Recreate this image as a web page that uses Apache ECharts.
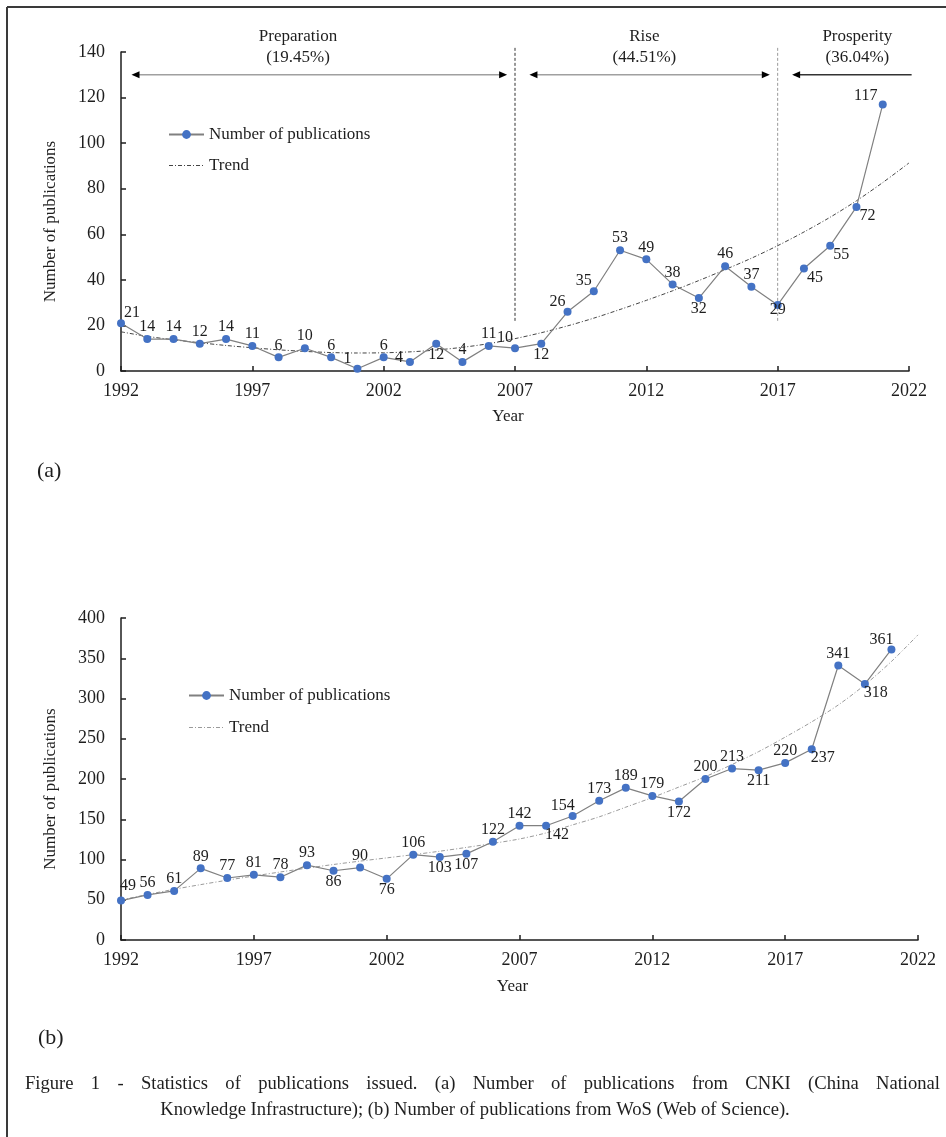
<!DOCTYPE html>
<html><head><meta charset="utf-8">
<script src="https://cdn.jsdelivr.net/npm/echarts/dist/echarts.min.js"></script>
<style>html,body{margin:0;padding:0;background:#fff}#c{width:946px;height:1137px}</style>
</head><body><div id="c"></div>
<script>
// ---------------- DATA ----------------
const years = [1992,1993,1994,1995,1996,1997,1998,1999,2000,2001,2002,2003,2004,2005,2006,2007,2008,2009,2010,2011,2012,2013,2014,2015,2016,2017,2018,2019,2020,2021];
const cnkiCounts = [21,14,14,12,14,11,6,10,6,1,6,4,12,4,11,10,12,26,35,53,49,38,32,46,37,29,45,55,72,117];
const wosCounts = [49,56,61,89,77,81,78,93,86,90,76,106,103,107,122,142,142,154,173,189,179,172,200,213,211,220,237,341,318,361];
const trendYears = [1992,1993,1994,1995,1996,1997,1998,1999,2000,2001,2002,2003,2004,2005,2006,2007,2008,2009,2010,2011,2012,2013,2014,2015,2016,2017,2018,2019,2020,2021,2022];
const cnkiTrend = [17.2,15.2,13.7,12.4,11.2,10.2,9.3,8.6,8.1,7.9,8.0,8.4,9.2,10.4,12.0,14.2,16.8,19.8,23.2,27.0,31.0,35.2,39.7,44.5,49.5,55.0,61.0,67.5,74.7,82.7,91.3];
const wosTrend = [49.7,56.5,63,68.8,74.3,79.5,84.5,89.3,93.8,98,102,106,110.3,115,120,125.5,133,143,153,165,177,190,203,218,234,252,271,292,317,346,379];
const yearAxis = {min: 1992, max: 2022, step: 5};
const cnkiAxis = {min: 0, max: 140, step: 20};
const wosAxis = {min: 0, max: 400, step: 50};
const phaseNames = ['Preparation', 'Rise', 'Prosperity'];
const phaseShares = ['(19.45%)', '(44.51%)', '(36.04%)'];
const phaseBounds = [1992, 2007, 2017, 2022];
const seriesName = 'Number of publications';
const trendName = 'Trend';
const yName = 'Number of publications';
const xName = 'Year';
const panelTags = ['(a)', '(b)'];
const captionLine1 = 'Figure 1 - Statistics of publications issued. (a) Number of publications from CNKI (China National';
const captionLine2 = 'Knowledge Infrastructure); (b) Number of publications from WoS (Web of Science).';

// ---------------- STYLE ----------------
const SERIF = '"Liberation Serif", "Times New Roman", serif';
const INK = '#1e1e1e';
const labelOffsets = {T:[0,-12], B:[0,11], TR:[11,-10], TRh:[7,-15], TL:[-10,-10], TLw:[-17,-9], L:[-11,-4], BR:[11,9], B0:[0,5]};
const cnkiLabelPos = ['TR','T','T','T','T','T','T','T','T','TL','T','L','B','T','T','TL','B','TL','TL','T','T','T','B','T','T','B0','BR','BR','BR','TLw'];
const wosLabelPos = ['TRh','T','T','T','T','T','T','T','B','T','B','T','B','B','T','T','BR','TL','T','T','T','B','T','T','B','T','BR','T','BR','TL'];
const phaseTextShiftPx = [-20, -2, 14];
const phaseArrowColors = ['#a0a0a0', '#a0a0a0', '#333'];
const phaseLineColors = ['#333', '#9a9a9a'];

const chart = echarts.init(document.getElementById('c'), null, {renderer: 'canvas'});

function pts(xs, ys, pos) {
  return xs.map((x, i) => pos ? {value: [x, ys[i]], label: {offset: labelOffsets[pos[i]]}} : [x, ys[i]]);
}
function xAxisCfg(gridIndex, nameGap) {
  return {
    type: 'value', gridIndex, min: yearAxis.min, max: yearAxis.max, interval: yearAxis.step,
    name: xName, nameLocation: 'middle', nameGap,
    nameTextStyle: {fontFamily: SERIF, fontSize: 17, color: INK, padding: [0, 14, 0, 0]},
    axisLine: {show: true, onZero: false, lineStyle: {color: INK, width: 1.5}},
    axisTick: {show: true, inside: true, length: 5, lineStyle: {color: INK, width: 1.5}},
    axisLabel: {show: true, margin: 11, fontFamily: SERIF, fontSize: 18, color: INK, formatter: v => String(v), showMinLabel: true, showMaxLabel: true},
    splitLine: {show: false}
  };
}
function yAxisCfg(gridIndex, ax) {
  return {
    type: 'value', gridIndex, min: ax.min, max: ax.max, interval: ax.step,
    name: yName, nameLocation: 'middle', nameGap: 62, nameRotate: 90,
    nameTextStyle: {fontFamily: SERIF, fontSize: 17, color: INK, padding: [0, 20, 0, 0]},
    axisLine: {show: true, onZero: false, lineStyle: {color: INK, width: 1.5}},
    axisTick: {show: true, inside: true, length: 5, lineStyle: {color: INK, width: 1.5}},
    axisLabel: {show: true, margin: 16, fontFamily: SERIF, fontSize: 18, color: INK, formatter: v => String(v), showMinLabel: true, showMaxLabel: true},
    splitLine: {show: false}
  };
}
function dataSeries(idx, xs, ys, pos) {
  return {
    name: seriesName, type: 'line', xAxisIndex: idx, yAxisIndex: idx, z: 3,
    data: pts(xs, ys, pos), symbol: 'circle', symbolSize: 8, showSymbol: true,
    itemStyle: {color: '#4472C4'}, lineStyle: {color: '#808080', width: 1.2},
    label: {show: true, position: 'inside', formatter: p => String(p.value[1]), fontFamily: SERIF, fontSize: 16, color: INK},
    emphasis: {disabled: true}, animation: false
  };
}
function trendSeries(idx, ys, color) {
  return {
    name: trendName, type: 'line', xAxisIndex: idx, yAxisIndex: idx, z: 2,
    data: pts(trendYears, ys), symbol: 'none', smooth: 0.3,
    lineStyle: {color, width: 1, type: [4, 2, 1, 2]},
    emphasis: {disabled: true}, animation: false
  };
}
function legendCfg(left, top, gap, trendColor) {
  return {
    left, top, orient: 'vertical', padding: 0, itemWidth: 35, itemHeight: 11, itemGap: gap, selectedMode: false,
    textStyle: {fontFamily: SERIF, fontSize: 17, color: INK},
    data: [
      {name: seriesName},
      {name: trendName, itemStyle: {color: 'rgba(0,0,0,0)', opacity: 0, borderWidth: 0}, lineStyle: {color: trendColor, width: 1, type: [4, 2, 1, 2], opacity: 1}}
    ]
  };
}
function txt(id, x, y, text, size, align) {
  return {type: 'text', id, x, y, silent: true,
    style: {text, fontFamily: SERIF, fontSize: size, fill: INK, textAlign: align || 'center', align: align || 'center', textVerticalAlign: 'middle', verticalAlign: 'middle'}};
}

const option = {
  backgroundColor: '#fff',
  animation: false,
  grid: [
    {left: 121, top: 52, width: 788, height: 319, containLabel: false, outerBoundsMode: 'none'},
    {left: 121, top: 618, width: 797, height: 322, containLabel: false, outerBoundsMode: 'none'}
  ],
  xAxis: [xAxisCfg(0, 37), xAxisCfg(1, 38)],
  yAxis: [yAxisCfg(0, cnkiAxis), yAxisCfg(1, wosAxis)],
  legend: [legendCfg(168, 126, 14, '#444'), legendCfg(188, 687, 15, '#9a9a9a')],
  series: [
    trendSeries(0, cnkiTrend, '#444'),
    dataSeries(0, years, cnkiCounts, cnkiLabelPos),
    trendSeries(1, wosTrend, '#9a9a9a'),
    dataSeries(1, years, wosCounts, wosLabelPos)
  ]
};
chart.setOption(option);

// ---- annotations computed through the chart's own scales ----
const els = [];
els.push({type: 'line', id: 'bTop', silent: true, shape: {x1: 7, y1: 7, x2: 946, y2: 7}, style: {stroke: '#3a3a3a', lineWidth: 2}});
els.push({type: 'line', id: 'bLeft', silent: true, shape: {x1: 7, y1: 7, x2: 7, y2: 1137}, style: {stroke: '#3a3a3a', lineWidth: 2}});
els.push(txt('tagA', 37, 471, panelTags[0], 22, 'left'));
els.push(txt('tagB', 38, 1038, panelTags[1], 22, 'left'));

const px = (x, y) => chart.convertToPixel({gridIndex: 0}, [x, y]);
[phaseBounds[1], phaseBounds[2]].forEach((b, i) => {
  const p0 = px(b, 22), p1 = px(b, 142);
  els.push({type: 'line', id: 'sep' + i, silent: true, shape: {x1: p0[0], y1: p0[1], x2: p1[0], y2: p1[1]}, style: {stroke: phaseLineColors[i], lineWidth: 1, lineDash: [3, 2]}});
});
const AH = 8, AW = 3.5;
phaseNames.forEach((name, i) => {
  const last = i === phaseNames.length - 1;
  const a = px(phaseBounds[i] + (i === 0 ? 0.4 : 0.55), 130);
  const b = px(last ? phaseBounds[i + 1] + 0.1 : phaseBounds[i + 1] - 0.3, 130);
  els.push({type: 'line', id: 'arr' + i, silent: true, shape: {x1: a[0] + 2, y1: a[1], x2: b[0] - (last ? 0 : 2), y2: b[1]}, style: {stroke: phaseArrowColors[i], lineWidth: 1.5}});
  els.push({type: 'polygon', id: 'ahL' + i, silent: true, shape: {points: [[a[0], a[1]], [a[0] + AH, a[1] - AW], [a[0] + AH, a[1] + AW]]}, style: {fill: '#000'}});
  if (!last) els.push({type: 'polygon', id: 'ahR' + i, silent: true, shape: {points: [[b[0], b[1]], [b[0] - AH, b[1] - AW], [b[0] - AH, b[1] + AW]]}, style: {fill: '#000'}});
  const mid = px((phaseBounds[i] + phaseBounds[i + 1]) / 2, 147);
  const mid2 = px((phaseBounds[i] + phaseBounds[i + 1]) / 2, 137.5);
  els.push(txt('pn' + i, mid[0] + phaseTextShiftPx[i], mid[1], name, 17));
  els.push(txt('ps' + i, mid2[0] + phaseTextShiftPx[i], mid2[1], phaseShares[i], 17));
});
// caption: first line justified, second centered
const capSize = 18.6;
const ctx = document.createElement('canvas').getContext('2d');
ctx.font = capSize + 'px "Liberation Serif"';
const words = captionLine1.split(' ');
const widths = words.map(w => ctx.measureText(w).width);
const total = widths.reduce((s, w) => s + w, 0);
const capL = 25, capR = 940;
const gap = (capR - capL - total) / (words.length - 1);
let cx = capL;
words.forEach((w, i) => { els.push(txt('c1_' + i, cx, 1084, w, capSize, 'left')); cx += widths[i] + gap; });
els.push(txt('c2', 475, 1110, captionLine2, capSize));

chart.setOption({graphic: {elements: els}});
</script>
</body></html>
